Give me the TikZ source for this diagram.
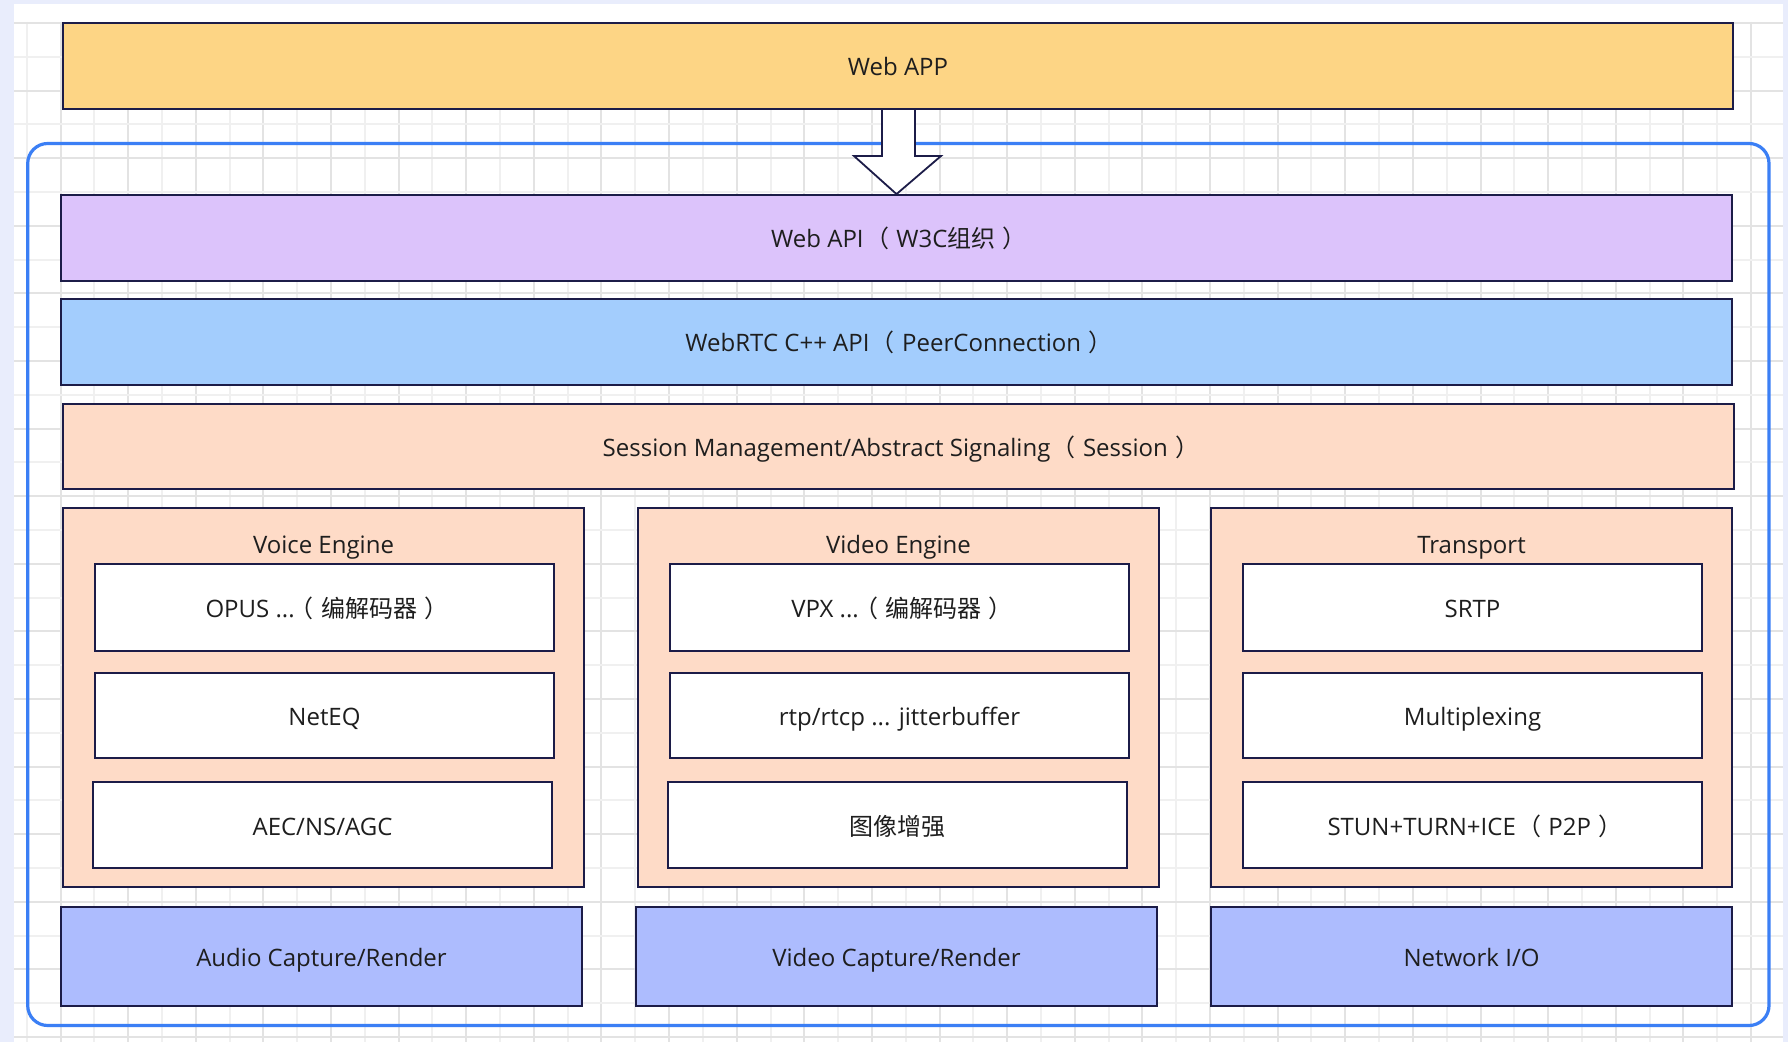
\documentclass[tikz,border=0pt]{standalone}
\usepackage{fontspec}
\setmainfont{Open Sans}
\newfontfamily\cjk{Noto Sans CJK SC}
\usetikzlibrary{calc}

\definecolor{pagebg}{HTML}{E9EDFC}
\definecolor{gridminor}{HTML}{F0F0F0}
\definecolor{gridmajor}{HTML}{E3E3E3}
\definecolor{edge}{HTML}{1C1C48}
\definecolor{frame}{HTML}{3B7FF5}
\definecolor{appfill}{HTML}{FDD585}
\definecolor{apifill}{HTML}{DCC3FB}
\definecolor{rtcfill}{HTML}{A3CDFD}
\definecolor{peach}{HTML}{FEDBC7}
\definecolor{iofill}{HTML}{ADBCFE}
\definecolor{ink}{HTML}{1E1E1E}

% full-width brackets with the glyph centred in its cell
\newcommand\lparbare{{\cjk\kern-0.2em（\kern0.3em}}
\newcommand\lpar{ \lparbare}
\newcommand\rpar{{\cjk\kern0.3em）\kern-0.2em}}

% block: name, style, x1, y1, x2, y2, text  (pixel units, y grows downward)
\newcommand\blk[7]{%
  \node[#2, minimum width={(#5-#3)*0.5pt}, minimum height={(#6-#4)*0.5pt}]
    (#1) at ({(#3+#5)/2},{(#4+#6)/2}) {#7};}

\begin{document}
\begin{tikzpicture}[x=0.5pt,y=-0.5pt,
  txt/.style={inner sep=0pt, text=ink, text height=10pt, text depth=0pt,
    font=\fontsize{12}{14}\selectfont},
  layer/.style={txt, draw=edge, line width=0.9pt},
  cell/.style={layer, fill=white},
  hollowarrow/.style={draw=edge, fill=white, line width=0.9pt, line join=miter},
  outerframe/.style={draw=frame, line width=1.6pt, rounded corners=10pt}]

\useasboundingbox (0,0) rectangle (1788,1042);

% canvas and grid
\fill[pagebg] (0,0) rectangle (1788,1042);
\fill[white] (14,4) rectangle (1783,1042);
\foreach \k in {0,...,25} {
  \draw[gridminor, line width=1pt] ({26.7+67.62*\k},22) -- ({26.7+67.62*\k},1042);
  \draw[gridmajor, line width=1pt] ({60.5+67.62*\k},22) -- ({60.5+67.62*\k},1042);
}
\foreach \k in {0,...,15} {
  \draw[gridminor, line width=1pt] (14,{56.8+67.6*\k}) -- (1783,{56.8+67.6*\k});
  \draw[gridmajor, line width=1pt] (14,{23+67.6*\k}) -- (1783,{23+67.6*\k});
}

% browser-side engine boundary
\draw[outerframe] (27.7,143.5) rectangle (1769,1025.5);

% top layers
\blk{webapi}{layer, fill=apifill}{61}{195}{1732}{281}{Web API\lpar W3C{\cjk 组织}\rpar}
\blk{webrtc}{layer, fill=rtcfill}{61}{299}{1732}{385}{WebRTC C++ API\lpar PeerConnection\rpar}
\blk{session}{layer, fill=peach}{63}{404}{1734}{489}{Session Management/Abstract Signaling\lpar Session\rpar}

% arrow from the application down to the Web API
\coordinate (tip) at (webapi.north);
\draw[hollowarrow] (882,109) -- (882,156) -- (854,156) -- (tip) -- (941,156) -- (915,156) -- (915,109) -- cycle;
\blk{webapp}{layer, fill=appfill}{63}{23}{1733}{109}{Web APP}

% engines
\blk{voice}{layer, fill=peach}{63}{508}{584}{887}{}
\blk{video}{layer, fill=peach}{638}{508}{1159}{887}{}
\blk{transport}{layer, fill=peach}{1211}{508}{1732}{887}{}
\node[txt] (voicet) at ($(voice.north)+(0,36)$) {Voice Engine};
\node[txt] (videot) at ($(video.north)+(0,36)$) {Video Engine};
\node[txt] (transportt) at ($(transport.north)+(0,36)$) {Transport};

\blk{opus}{cell}{95}{564}{554}{651}{OPUS ...\lparbare{\cjk 编解码器}\rpar}
\blk{neteq}{cell}{95}{673}{554}{758}{NetEQ}
\blk{aec}{cell}{93}{782}{552}{868}{AEC/NS/AGC}

\blk{vpx}{cell}{670}{564}{1129}{651}{VPX ...\lparbare{\cjk 编解码器}\rpar}
\blk{rtp}{cell}{670}{673}{1129}{758}{rtp/rtcp ... jitterbuffer}
\blk{enh}{cell}{668}{782}{1127}{868}{\cjk 图像增强}

\blk{srtp}{cell}{1243}{564}{1702}{651}{SRTP}
\blk{mux}{cell}{1243}{673}{1702}{758}{Multiplexing}
\blk{ice}{cell}{1243}{782}{1702}{868}{STUN+TURN+ICE\lpar P2P\rpar}

% device and network I/O
\blk{audio}{layer, fill=iofill}{61}{907}{582}{1006}{Audio Capture/Render}
\blk{vcap}{layer, fill=iofill}{636}{907}{1157}{1006}{Video Capture/Render}
\blk{netio}{layer, fill=iofill}{1211}{907}{1732}{1006}{Network I/O}

\end{tikzpicture}
\end{document}
